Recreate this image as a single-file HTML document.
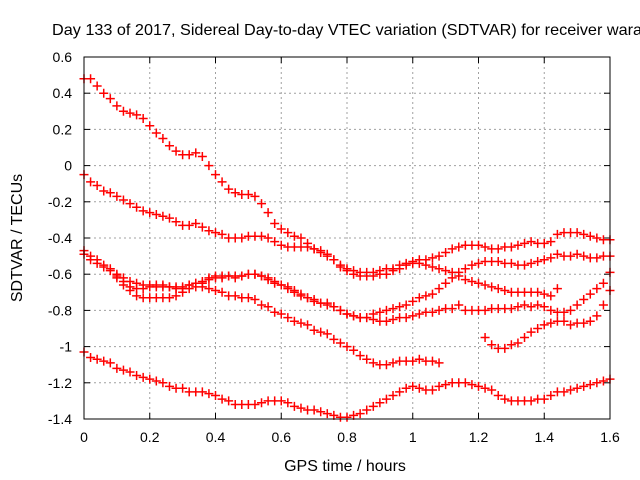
<!DOCTYPE html>
<html><head><meta charset="utf-8"><style>
body{margin:0;background:#fff}
svg{display:block;font-family:"Liberation Sans",sans-serif}
</style></head><body>
<svg id="chart" width="640" height="480" xmlns="http://www.w3.org/2000/svg">
<rect width="640" height="480" fill="#fff"/>
<text x="52" y="35" font-size="16" textLength="590" lengthAdjust="spacingAndGlyphs" fill="#000">Day 133 of 2017, Sidereal Day-to-day VTEC variation (SDTVAR) for receiver wara</text>
<text x="345" y="471" font-size="16" text-anchor="middle">GPS time / hours</text>
<text transform="translate(22,238) rotate(-90)" font-size="16" text-anchor="middle">SDTVAR / TECUs</text>
<g id="grid"></g><g id="ticks"></g><g id="marks"></g>
<rect x="84" y="57" width="526" height="362" fill="none" stroke="#000" stroke-width="1"/>
</svg>
<script>
const xTicks=[0,0.2,0.4,0.6,0.8,1,1.2,1.4,1.6];
const xTickLabels=["0","0.2","0.4","0.6","0.8","1","1.2","1.4","1.6"];
const yTicks=[0.6,0.4,0.2,0,-0.2,-0.4,-0.6,-0.8,-1,-1.2,-1.4];
const yTickLabels=["0.6","0.4","0.2","0","-0.2","-0.4","-0.6","-0.8","-1","-1.2","-1.4"];
const times=[0,0.02,0.04,0.06,0.08,0.1,0.12,0.14,0.16,0.18,0.2,0.22,0.24,0.26,0.28,0.3,0.32,0.34,0.36,0.38,0.4,0.42,0.44,0.46,0.48,0.5,0.52,0.54,0.56,0.58,0.6,0.62,0.64,0.66,0.68,0.7,0.72,0.74,0.76,0.78,0.8,0.82,0.84,0.86,0.88,0.9,0.92,0.94,0.96,0.98,1,1.02,1.04,1.06,1.08,1.1,1.12,1.14,1.16,1.18,1.2,1.22,1.24,1.26,1.28,1.3,1.32,1.34,1.36,1.38,1.4,1.42,1.44,1.46,1.48,1.5,1.52,1.54,1.56,1.58,1.6];
const _=null;
const s1=[0.48,0.48,0.44,0.40,0.37,0.33,0.30,0.29,0.28,0.26,0.22,0.18,0.15,0.11,0.08,0.06,0.06,0.07,0.05,0.0,-0.05,-0.09,-0.13,-0.15,-0.16,-0.16,-0.17,-0.21,-0.26,-0.32,-0.35,-0.37,-0.39,-0.40,-0.43,-0.46,-0.48,-0.50,-0.52,-0.56,-0.58,-0.60,-0.61,-0.61,-0.61,-0.60,-0.60,-0.58,-0.57,-0.55,-0.54,-0.54,-0.55,-0.56,-0.57,-0.58,-0.59,-0.61,-0.63,-0.64,-0.65,-0.66,-0.67,-0.68,-0.69,-0.70,-0.70,-0.70,-0.70,-0.70,-0.71,-0.72,-0.68,_,_,_,_,_,_,_,_];
const s2=[-0.05,-0.09,-0.11,-0.14,-0.15,-0.17,-0.19,-0.21,-0.23,-0.25,-0.26,-0.27,-0.28,-0.29,-0.31,-0.33,-0.33,-0.32,-0.34,-0.36,-0.37,-0.38,-0.40,-0.40,-0.40,-0.39,-0.39,-0.39,-0.40,-0.42,-0.44,-0.45,-0.45,-0.45,-0.45,-0.46,-0.47,-0.49,-0.52,-0.55,-0.57,-0.58,-0.59,-0.59,-0.59,-0.58,-0.57,-0.57,-0.55,-0.54,-0.53,-0.52,-0.52,-0.51,-0.50,-0.48,-0.46,-0.45,-0.44,-0.44,-0.44,-0.45,-0.46,-0.46,-0.45,-0.45,-0.44,-0.43,-0.42,-0.43,-0.43,-0.42,-0.38,-0.37,-0.37,-0.37,-0.38,-0.39,-0.40,-0.41,-0.41];
const s3=[-0.47,-0.50,-0.52,-0.55,-0.57,-0.60,-0.62,-0.64,-0.65,-0.66,-0.66,-0.67,-0.67,-0.67,-0.68,-0.68,-0.66,-0.65,-0.64,-0.62,-0.61,-0.61,-0.61,-0.62,-0.61,-0.60,-0.60,-0.61,-0.62,-0.64,-0.66,-0.68,-0.70,-0.72,-0.73,-0.75,-0.76,-0.76,-0.78,-0.80,-0.82,-0.83,-0.84,-0.84,-0.82,-0.81,-0.80,-0.79,-0.78,-0.77,-0.75,-0.73,-0.72,-0.71,-0.68,-0.65,-0.62,-0.59,-0.57,-0.55,-0.54,-0.53,-0.53,-0.53,-0.54,-0.54,-0.55,-0.55,-0.54,-0.53,-0.52,-0.51,-0.49,-0.50,-0.50,-0.49,-0.50,-0.51,-0.51,-0.50,-0.50];
const s4=[-0.49,-0.52,-0.54,-0.56,-0.58,-0.62,-0.66,-0.69,-0.72,-0.73,-0.73,-0.73,-0.73,-0.73,-0.72,-0.70,-0.68,-0.67,-0.67,-0.68,-0.69,-0.70,-0.72,-0.72,-0.73,-0.73,-0.74,-0.77,-0.78,-0.81,-0.82,-0.84,-0.86,-0.87,-0.88,-0.91,-0.92,-0.93,-0.96,-0.98,-1.0,-1.02,-1.05,-1.07,-1.09,-1.10,-1.10,-1.09,-1.08,-1.08,-1.08,-1.07,-1.08,-1.08,-1.09,_,_,_,_,_,_,_,_,_,_,_,_,_,_,_,_,_,_,_,_,_,_,_,_,_,_];
const s5=[_,_,_,_,_,-0.61,-0.64,-0.67,-0.68,-0.68,-0.67,-0.66,-0.66,-0.67,-0.67,-0.67,-0.66,-0.65,-0.65,-0.63,-0.62,-0.62,-0.61,-0.61,-0.61,-0.60,-0.60,-0.61,-0.63,-0.65,-0.66,-0.67,-0.69,-0.71,-0.73,-0.74,-0.76,-0.77,-0.78,-0.80,-0.82,-0.83,-0.84,-0.84,-0.85,-0.86,-0.86,-0.85,-0.84,-0.84,-0.83,-0.82,-0.81,-0.81,-0.80,-0.79,-0.79,-0.77,-0.80,-0.80,-0.80,-0.80,-0.79,-0.79,-0.79,-0.79,-0.78,-0.77,-0.78,-0.77,-0.78,-0.80,-0.81,-0.81,-0.80,-0.77,-0.74,-0.71,-0.68,-0.65,-0.59];
const s6=[_,_,_,_,_,_,_,_,_,_,_,_,_,_,_,_,_,_,_,_,_,_,_,_,_,_,_,_,_,_,_,_,_,_,_,_,_,_,_,_,_,_,_,_,_,_,_,_,_,_,_,_,_,_,_,_,_,_,_,_,_,-0.95,-0.99,-1.01,-1.01,-0.99,-0.98,-0.95,-0.92,-0.90,-0.88,-0.87,-0.86,-0.86,-0.88,-0.87,-0.87,-0.86,-0.83,-0.77,-0.69];
const s7=[-1.03,-1.06,-1.07,-1.08,-1.09,-1.12,-1.13,-1.14,-1.16,-1.17,-1.18,-1.19,-1.20,-1.22,-1.23,-1.23,-1.25,-1.25,-1.25,-1.26,-1.27,-1.29,-1.30,-1.32,-1.32,-1.32,-1.32,-1.31,-1.30,-1.30,-1.30,-1.31,-1.33,-1.34,-1.35,-1.35,-1.36,-1.37,-1.38,-1.39,-1.39,-1.38,-1.37,-1.35,-1.33,-1.31,-1.29,-1.27,-1.25,-1.23,-1.22,-1.23,-1.24,-1.24,-1.22,-1.21,-1.20,-1.20,-1.20,-1.21,-1.22,-1.23,-1.24,-1.27,-1.29,-1.30,-1.30,-1.30,-1.30,-1.29,-1.29,-1.27,-1.25,-1.25,-1.24,-1.23,-1.22,-1.21,-1.20,-1.19,-1.18];
const seriesList=[s1,s2,s3,s4,s5,s6,s7];

const NS="http://www.w3.org/2000/svg";
const L=84,R=610,T=57,B=419;
function xs(v){return L+(v-0)/(1.6-0)*(R-L);}
function ys(v){return B-(v+1.4)/(0.6+1.4)*(B-T);}
const grid=document.getElementById('grid'),ticks=document.getElementById('ticks'),marks=document.getElementById('marks');
function mk(tag,at,parent){const e=document.createElementNS(NS,tag);for(const k in at)e.setAttribute(k,at[k]);parent.appendChild(e);return e;}
xTicks.forEach((v,i)=>{
  const x=xs(v);
  if(i>0&&i<xTicks.length-1){const g=mk('line',{x1:x,y1:T,x2:x,y2:B,stroke:'#a0a0a0','stroke-dasharray':'2,3'},grid);
  
  }
  const t1=mk('line',{x1:x,y1:B,x2:x,y2:B-6,stroke:'#000'},ticks);
  
  
  mk('line',{x1:x,y1:T,x2:x,y2:T+6,stroke:'#000'},ticks);
  const lb=mk('text',{x:x,y:442,'font-size':'14','text-anchor':'middle'},ticks);
  lb.textContent=xTickLabels[i];
  
  
});
yTicks.forEach((v,i)=>{
  const y=ys(v);
  if(i>0&&i<yTicks.length-1){const g=mk('line',{x1:L,y1:y,x2:R,y2:y,stroke:'#a0a0a0','stroke-dasharray':'2,3'},grid);
  
  }
  const t1=mk('line',{x1:L,y1:y,x2:L+6,y2:y,stroke:'#000'},ticks);
  
  
  mk('line',{x1:R,y1:y,x2:R-6,y2:y,stroke:'#000'},ticks);
  const lb=mk('text',{x:72,y:y+5,'font-size':'14','text-anchor':'end'},ticks);
  lb.textContent=yTickLabels[i];
  
  
});
seriesList.forEach((s,si)=>{
  const g=mk('g',{},marks);
  
  
  let d='';
  s.forEach((v,i)=>{
    if(v===null)return;
    const x=xs(times[i]),y=ys(v);
    d+='M'+(x-4.5)+' '+y+'h9M'+x+' '+(y-4.5)+'v9';
  });
  const p=mk('path',{d:d,stroke:'#ff0000','stroke-width':'1.5',fill:'none'},g);
  
  
});
</script>
</body></html>
